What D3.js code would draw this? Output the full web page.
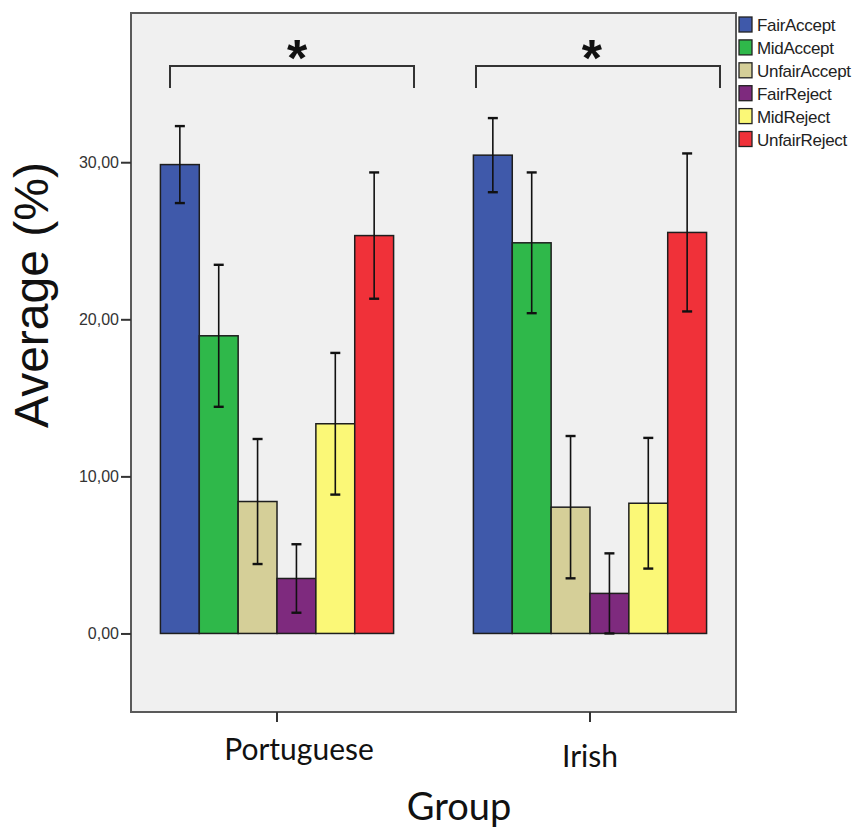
<!DOCTYPE html>
<html>
<head>
<meta charset="utf-8">
<script src="https://cdn.jsdelivr.net/npm/d3@7"></script>
<style>
  html, body { margin: 0; padding: 0; background: #ffffff; }
  svg { display: block; }
</style>
</head>
<body>
<svg id="chart" width="856" height="830"></svg>
<script>
// Groups and response categories
const groups = ["Portuguese", "Irish"];
const categories = ["FairAccept", "MidAccept", "UnfairAccept", "FairReject", "MidReject", "UnfairReject"];
const colors = ["#3f59aa", "#2fb84a", "#d5cf98", "#7e2a7e", "#fbf877", "#f03139"];

// Mean percentages per group (same order as categories)
const portugueseMeans = [29.85, 18.95, 8.40, 3.50, 13.35, 25.33];
const irishMeans = [30.45, 24.87, 8.04, 2.55, 8.29, 25.53];

// Error bar half-widths
const portugueseErr = [2.45, 4.52, 3.98, 2.18, 4.51, 4.02];
const irishErr = [2.36, 4.48, 4.53, 2.55, 4.16, 5.03];

// Y axis ticks
const yTicks = [0, 10, 20, 30];
const yTickLabels = ["0,00", "10,00", "20,00", "30,00"];

const groupMeans = { Portuguese: portugueseMeans, Irish: irishMeans };
const groupErr = { Portuguese: portugueseErr, Irish: irishErr };

const svg = d3.select("#chart");

const plot = { left: 131, right: 736, top: 13, bottom: 712 };

const x = d3.scaleBand()
  .domain(groups)
  .range([plot.left, plot.right])
  .paddingInner(0.255)
  .paddingOuter(0.094);

const xInner = d3.scaleBand()
  .domain(categories)
  .range([0, x.bandwidth()])
  .padding(0);

const y = d3.scaleLinear()
  .domain([-5, 39.5])
  .range([plot.bottom, plot.top]);

// Plot background
svg.append("rect")
  .attr("x", plot.left).attr("y", plot.top)
  .attr("width", plot.right - plot.left).attr("height", plot.bottom - plot.top)
  .attr("fill", "#f0f0f0");

// Bars
const rows = [];
groups.forEach(g => categories.forEach((c, i) => {
  rows.push({ group: g, cat: c, idx: i, value: groupMeans[g][i], err: groupErr[g][i] });
}));

const barG = svg.append("g");
barG.selectAll("rect")
  .data(rows)
  .join("rect")
  .attr("x", d => x(d.group) + xInner(d.cat))
  .attr("y", d => y(d.value))
  .attr("width", xInner.bandwidth())
  .attr("height", d => y(0) - y(d.value))
  .attr("fill", d => colors[d.idx])
  .attr("stroke", "#1e1e1e")
  .attr("stroke-width", 1.5);

// Error bars
const errG = svg.append("g").attr("stroke", "#111").attr("fill", "none");
rows.forEach(d => {
  const cx = x(d.group) + xInner(d.cat) + xInner.bandwidth() / 2;
  const hi = y(d.value + d.err), lo = y(d.value - d.err);
  errG.append("line").attr("x1", cx).attr("x2", cx).attr("y1", hi).attr("y2", lo).attr("stroke-width", 1.6);
  errG.append("line").attr("x1", cx - 5).attr("x2", cx + 5).attr("y1", hi).attr("y2", hi).attr("stroke-width", 2.4);
  errG.append("line").attr("x1", cx - 5).attr("x2", cx + 5).attr("y1", lo).attr("y2", lo).attr("stroke-width", 2.4);
});

// Frame
svg.append("rect")
  .attr("x", plot.left).attr("y", plot.top)
  .attr("width", plot.right - plot.left).attr("height", plot.bottom - plot.top)
  .attr("fill", "none").attr("stroke", "#5a5a5a").attr("stroke-width", 2);

// Y axis
const yAxis = d3.axisLeft(y)
  .tickValues(yTicks)
  .tickFormat((d, i) => yTickLabels[i])
  .tickSize(10)
  .tickPadding(2);
const yg = svg.append("g").attr("transform", `translate(${plot.left},0)`).call(yAxis);
yg.select(".domain").remove();
yg.selectAll(".tick line").attr("stroke", "#333").attr("stroke-width", 2);
yg.selectAll(".tick text")
  .attr("fill", "#333")
  .style("font-family", "'Liberation Sans', Arial, sans-serif")
  .style("font-size", "16px");

// X axis ticks
const xg = svg.append("g").attr("transform", `translate(0,${plot.bottom})`);
xg.selectAll("line")
  .data(groups)
  .join("line")
  .attr("x1", d => x(d) + x.bandwidth() / 2)
  .attr("x2", d => x(d) + x.bandwidth() / 2)
  .attr("y1", 0).attr("y2", 10)
  .attr("stroke", "#333").attr("stroke-width", 2);

// Group labels
const groupLabelPos = { Portuguese: { dx: 22, y: 760 }, Irish: { dx: 0, y: 767 } };
svg.selectAll("text.grp")
  .data(groups)
  .join("text")
  .attr("class", "grp")
  .attr("x", d => x(d) + x.bandwidth() / 2 + groupLabelPos[d].dx)
  .attr("y", d => groupLabelPos[d].y)
  .attr("text-anchor", "middle")
  .style("font-family", "Lato, 'Open Sans', sans-serif")
  .style("font-size", "30px")
  .attr("fill", "#111")
  .text(d => d);

// Axis titles
svg.append("text")
  .attr("x", 459).attr("y", 820)
  .attr("text-anchor", "middle")
  .style("font-family", "Lato, 'Open Sans', sans-serif")
  .style("font-size", "38px")
  .attr("fill", "#111")
  .text("Group");

svg.append("text")
  .attr("transform", "translate(48,428) rotate(-90)")
  .attr("text-anchor", "start")
  .style("font-family", "'Liberation Sans', Arial, sans-serif")
  .style("font-size", "48px")
  .attr("fill", "#111")
  .text("Average (%)");

// Significance brackets
const brackets = [
  { group: "Portuguese", left: -107, right: 137, star: 20 },
  { group: "Irish", left: -114, right: 130, star: 2 }
];
const brG = svg.append("g");
brackets.forEach(b => {
  const c = x(b.group) + x.bandwidth() / 2;
  brG.append("path")
    .attr("d", `M${c + b.left},88 V66 H${c + b.right} V88`)
    .attr("fill", "none").attr("stroke", "#333").attr("stroke-width", 2);
  brG.append("text")
    .attr("x", c + b.star).attr("y", 76)
    .attr("text-anchor", "middle")
    .style("font-family", "'Liberation Sans', Arial, sans-serif")
    .style("font-size", "52px")
    .style("font-weight", "bold")
    .attr("fill", "#111")
    .text("*");
});

// Legend
const legend = svg.append("g").attr("transform", "translate(739,17)");
const lg = legend.selectAll("g")
  .data(categories)
  .join("g")
  .attr("transform", (d, i) => `translate(0,${i * 22.9})`);
lg.append("rect")
  .attr("width", 13).attr("height", 15)
  .attr("fill", (d, i) => colors[i])
  .attr("stroke", "#222").attr("stroke-width", 1.3);
lg.append("text")
  .attr("x", 18).attr("y", 14)
  .style("font-family", "'Liberation Sans', Arial, sans-serif")
  .style("font-size", "17px")
  .style("letter-spacing", "-0.3px")
  .attr("fill", "#222")
  .text(d => d);
</script>
</body>
</html>
